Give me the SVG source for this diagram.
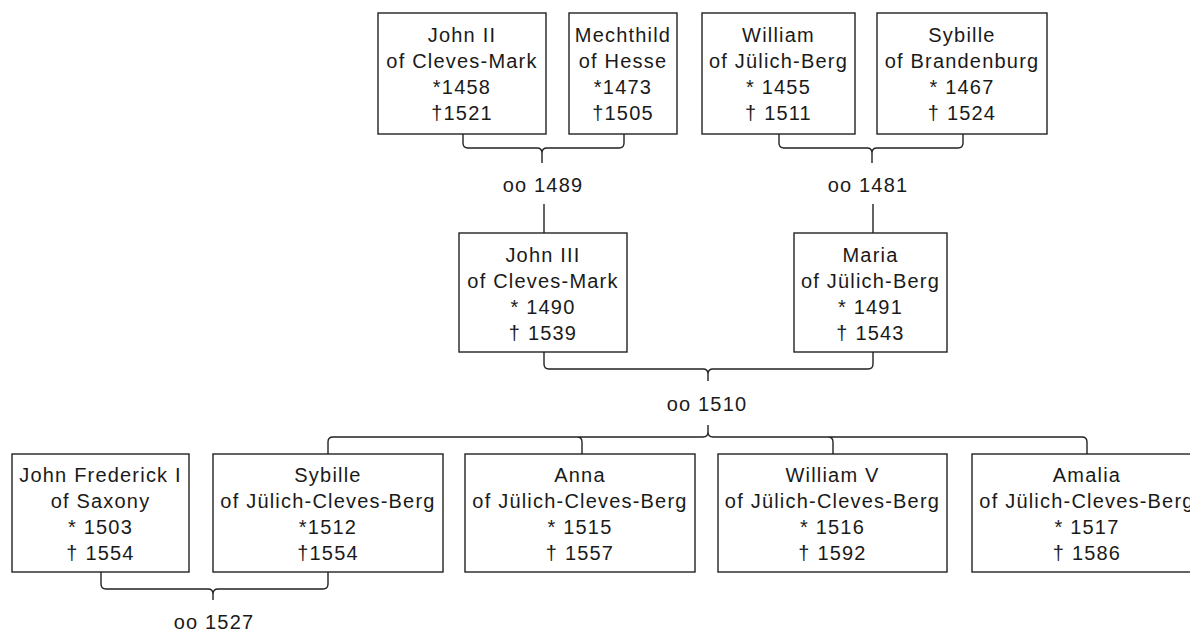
<svg xmlns="http://www.w3.org/2000/svg" width="1190" height="632" viewBox="0 0 1190 632">
<style>
.box{fill:#fff;stroke:#222;stroke-width:1.4}
.t{font-family:"Liberation Sans",Arial,sans-serif;font-size:20px;fill:#1a1a1a;text-anchor:middle;letter-spacing:1.2px}
.c{fill:none;stroke:#222;stroke-width:1.4}
</style>
<rect width="1190" height="632" fill="#fff"/>
<g id="connectors">
<path class="c" d="M463 134 V143 Q463 148 468 148 H537 Q542 148 542 153 V163 M624 134 V143 Q624 148 619 148 H547 Q542 148 542 153"/>
<path class="c" d="M544 204 V233"/>
<path class="c" d="M779 134 V143 Q779 148 784 148 H867 Q872 148 872 153 V163 M963 134 V143 Q963 148 958 148 H877 Q872 148 872 153"/>
<path class="c" d="M873 204 V233"/>
<path class="c" d="M544 352 V364 Q544 369 549 369 H703 Q708 369 708 374 V381 M873 352 V364 Q873 369 868 369 H713 Q708 369 708 374"/>
<path class="c" d="M708 425 V432 Q708 437 703 437 H333 Q328 437 328 442 V454 M708 432 Q708 437 713 437 H1082 Q1087 437 1087 442 V454 M577 437 Q582 437 582 442 V454 M828 437 Q833 437 833 442 V454"/>
<path class="c" d="M101 572 V584 Q101 589 106 589 H208 Q213 589 213 594 V600 M328 572 V584 Q328 589 323 589 H218 Q213 589 213 594"/>
<text class="t" x="543" y="192">oo 1489</text>
<text class="t" x="868" y="192">oo 1481</text>
<text class="t" x="707" y="411">oo 1510</text>
<text class="t" x="214" y="629">oo 1527</text>
</g>
<g id="john2">
<rect class="box" x="378" y="13" width="168" height="121"/>
<text class="t" x="462" y="42">John II</text><text class="t" x="462" y="68">of Cleves-Mark</text><text class="t" x="462" y="94">*1458</text><text class="t" x="462" y="120">†1521</text>
</g>
<g id="mechthild">
<rect class="box" x="569" y="13" width="108" height="121"/>
<text class="t" x="623" y="42">Mechthild</text><text class="t" x="623" y="68">of Hesse</text><text class="t" x="623" y="94">*1473</text><text class="t" x="623" y="120">†1505</text>
</g>
<g id="william">
<rect class="box" x="702" y="13" width="153" height="121"/>
<text class="t" x="778.5" y="42">William</text><text class="t" x="778.5" y="68">of Jülich-Berg</text><text class="t" x="778.5" y="94">* 1455</text><text class="t" x="778.5" y="120">† 1511</text>
</g>
<g id="sybille-b">
<rect class="box" x="877" y="13" width="170" height="121"/>
<text class="t" x="962" y="42">Sybille</text><text class="t" x="962" y="68">of Brandenburg</text><text class="t" x="962" y="94">* 1467</text><text class="t" x="962" y="120">† 1524</text>
</g>
<g id="john3">
<rect class="box" x="459" y="233" width="168" height="119"/>
<text class="t" x="543" y="262">John III</text><text class="t" x="543" y="288">of Cleves-Mark</text><text class="t" x="543" y="314">* 1490</text><text class="t" x="543" y="340">† 1539</text>
</g>
<g id="maria">
<rect class="box" x="794" y="233" width="153" height="119"/>
<text class="t" x="870.5" y="262">Maria</text><text class="t" x="870.5" y="288">of Jülich-Berg</text><text class="t" x="870.5" y="314">* 1491</text><text class="t" x="870.5" y="340">† 1543</text>
</g>
<g id="johnfrederick">
<rect class="box" x="12" y="454" width="177" height="118"/>
<text class="t" x="100.5" y="482">John Frederick I</text><text class="t" x="100.5" y="508">of Saxony</text><text class="t" x="100.5" y="534">* 1503</text><text class="t" x="100.5" y="560">† 1554</text>
</g>
<g id="sybille-jcb">
<rect class="box" x="213" y="454" width="230" height="118"/>
<text class="t" x="328" y="482">Sybille</text><text class="t" x="328" y="508">of Jülich-Cleves-Berg</text><text class="t" x="328" y="534">*1512</text><text class="t" x="328" y="560">†1554</text>
</g>
<g id="anna">
<rect class="box" x="465" y="454" width="230" height="118"/>
<text class="t" x="580" y="482">Anna</text><text class="t" x="580" y="508">of Jülich-Cleves-Berg</text><text class="t" x="580" y="534">* 1515</text><text class="t" x="580" y="560">† 1557</text>
</g>
<g id="william5">
<rect class="box" x="718" y="454" width="229" height="118"/>
<text class="t" x="832.5" y="482">William V</text><text class="t" x="832.5" y="508">of Jülich-Cleves-Berg</text><text class="t" x="832.5" y="534">* 1516</text><text class="t" x="832.5" y="560">† 1592</text>
</g>
<g id="amalia">
<rect class="box" x="972" y="454" width="230" height="118"/>
<text class="t" x="1087" y="482">Amalia</text><text class="t" x="1087" y="508">of Jülich-Cleves-Berg</text><text class="t" x="1087" y="534">* 1517</text><text class="t" x="1087" y="560">† 1586</text>
</g>
</svg>
